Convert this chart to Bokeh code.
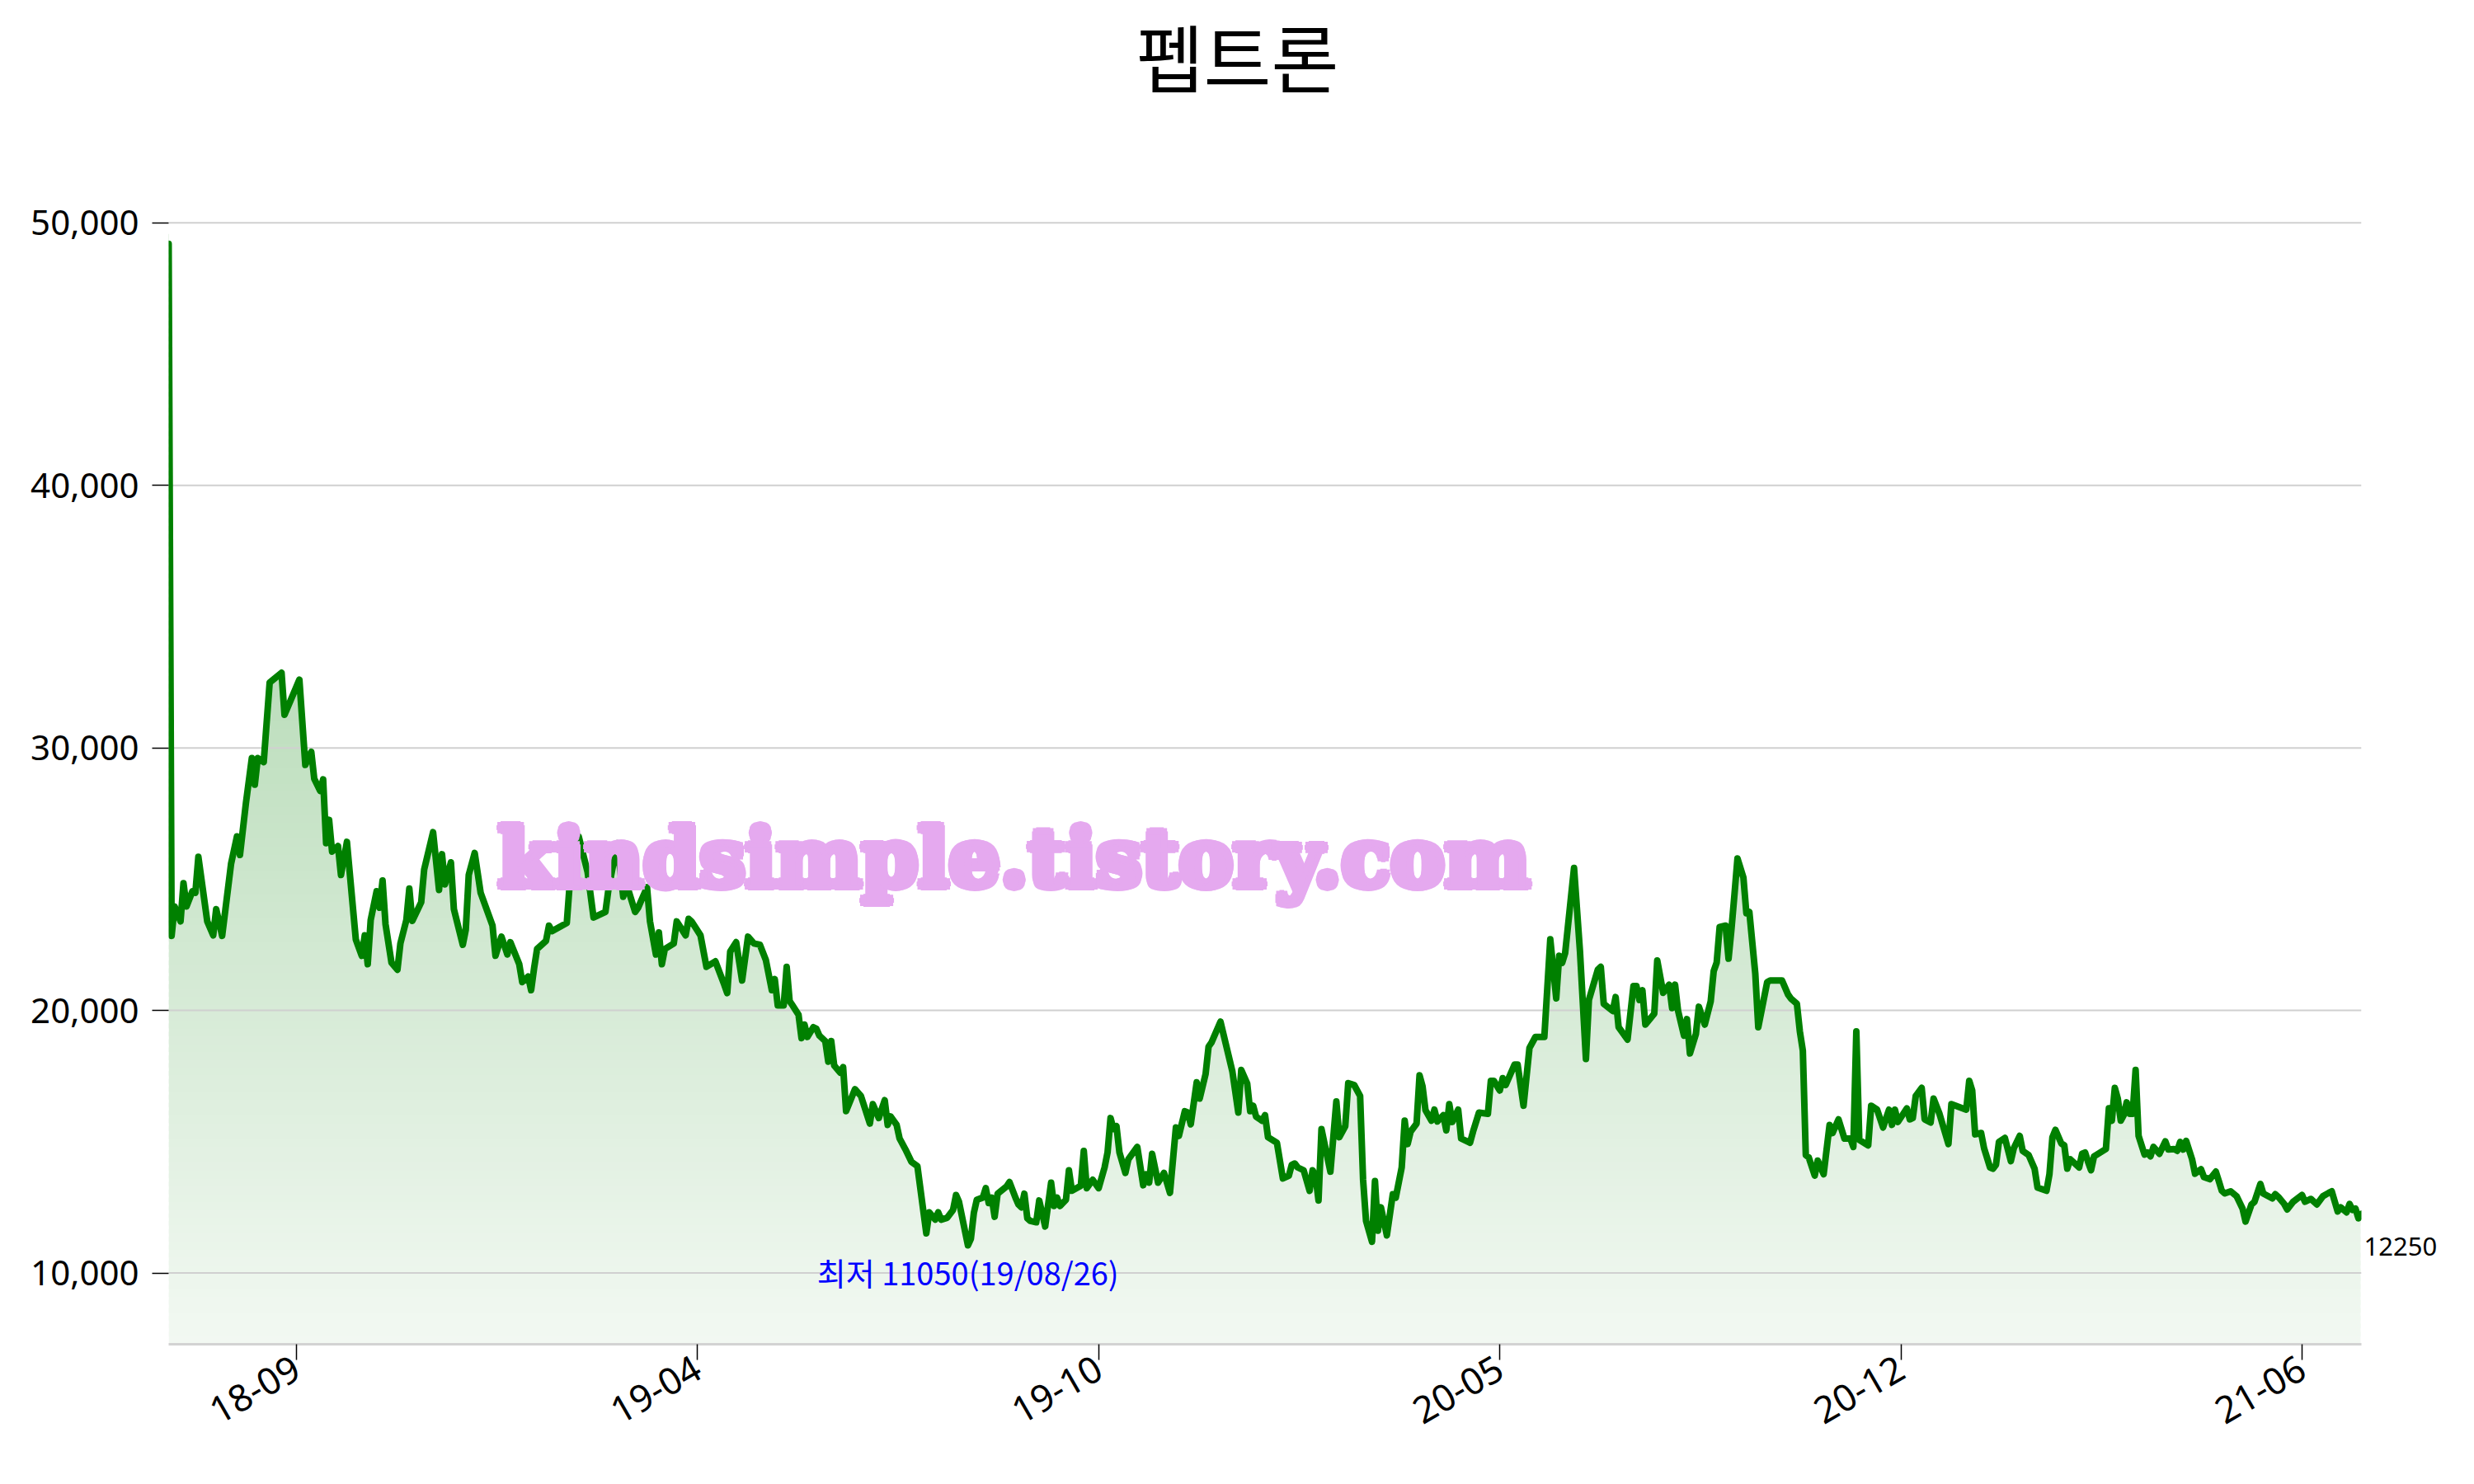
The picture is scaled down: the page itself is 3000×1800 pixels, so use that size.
import numpy as np
from bokeh.plotting import figure
from bokeh.models import Range1d, FixedTicker, NumeralTickFormatter, Label, LinearAxis
from bokeh.embed import file_html
from bokeh.resources import INLINE

# ---------------- data ----------------
title_text = "펩트론"
watermark_text = "kindsimple.tistory.com"
min_date = "19/08/26"

day_idx = [
    0, 1, 2, 4, 5, 6, 8, 9, 10, 13, 15, 16, 18, 21, 23, 24, 26, 28, 29, 30, 32, 34, 38, 39, 44, 46, 48, 49,
    51, 52, 53, 54, 55, 57, 58, 60, 63, 65, 66, 67, 68, 70, 71, 72, 73, 75, 77, 78, 80, 81, 82, 85, 86, 89,
    91, 92, 93, 95, 96, 99, 100, 101, 103, 105, 109, 110, 112, 114, 115, 118, 119, 121, 122,
    123, 124, 127, 128, 129, 134, 135, 138, 141, 143, 147, 148, 151, 153, 154, 157, 158, 161, 162, 164, 165,
    166, 167, 170, 171, 174, 175, 176, 179, 181, 184, 187, 188, 189, 191, 193, 195, 197, 199, 201, 203, 204,
    205, 207, 208, 209, 210, 212, 213, 214, 215, 217, 218, 219, 221, 222, 223, 224, 226, 227, 228, 231, 233,
    236, 237, 239, 241, 242, 243,
    245, 246, 248, 250, 252, 255, 256, 258, 259, 260, 262, 264, 265, 266, 269, 270, 271, 272, 274, 275, 276,
    277, 278, 279, 282, 283, 285, 286, 287, 288, 289, 290, 292, 293, 295, 297, 298, 299, 300, 302, 303, 304,
    307, 308, 309, 311, 313, 315, 316, 317, 318, 319, 320, 322, 323, 326, 328, 329, 330, 331, 333, 335, 337,
    339, 340, 342, 343, 344, 346, 347, 349, 350, 351, 354, 358, 360, 361, 363, 364, 365,
    366, 368, 369, 370, 373, 375, 377, 378, 379, 380, 382, 384, 385, 386, 387, 388, 391, 393, 394, 396, 397,
    399, 401, 402, 403, 405, 406, 407, 408, 410, 412, 413, 415, 416, 417, 418, 420, 421, 422, 423, 425, 426,
    427, 429, 430, 431, 432, 434, 435, 438, 439, 441, 444, 445, 446, 448, 449, 450, 453, 454, 456, 458, 460,
    463, 465, 467, 468, 469, 470, 473, 475, 477, 478, 481, 482, 483, 486, 487, 488,
    491, 493, 494, 495, 496, 497, 500, 501, 503, 505, 506, 507, 508, 510, 511, 512, 514, 515, 517, 519, 520,
    521, 522, 524, 525, 526, 527, 528, 530, 531, 532, 534, 535, 538, 539, 543, 545, 546, 548, 549, 550, 551,
    552, 554, 555, 557, 559, 560, 562, 564, 566, 567, 568, 569, 572, 573, 575, 577, 579, 580, 581, 582, 585,
    586, 587, 588, 590, 591, 593, 594, 596, 599, 600, 605, 606, 607, 608, 610,
    611, 613, 614, 615, 616, 618, 619, 620, 621, 623, 624, 626, 628, 629, 632, 633, 634, 635, 637, 638, 639,
    640, 643, 644, 645, 646, 647, 648, 652, 653, 654, 655, 656, 657, 658, 659, 660, 661, 662, 663, 665, 666,
    667, 668, 670, 672, 673, 675, 676, 677, 678, 679, 681, 682, 684, 685, 687, 689, 690, 691, 692, 694, 696,
    698, 699, 701, 702, 704, 705, 708, 709, 710, 712, 713, 715, 718, 719, 721, 723, 725, 727, 728, 730, 731,
    733, 734, 735, 736, 737, 738,
]

price = [
    49200, 22840, 23960, 23390, 24850, 23960, 24540, 24480, 25850, 23390, 22860, 23860, 22840, 25580, 26630,
    25920, 27890, 29610, 28600, 29610, 29460, 32490, 32860, 31260, 32600, 29350, 29850, 28830,
    28360, 28800, 26370, 27260, 26050, 26260, 25160, 26420, 22700, 22080, 22860, 21760, 23440, 24540, 23910,
    24950, 23280, 21820, 21550, 22550, 23440, 24640, 23410, 24120, 25370, 26790,
    24590, 25950, 24800, 25640, 23860, 22500, 23070, 25160, 26000, 24480, 23230, 22080, 22810, 22130, 22600,
    21760, 21080, 21290, 20770,
    21610, 22340, 22650, 23230, 23020, 23330, 24850, 26630, 25270, 23540, 23750, 24600, 26370, 24330, 24850,
    23750, 23910, 24690, 23390, 22130, 22970,
    21760, 22340, 22550, 23390, 22860, 23490, 23390, 22860, 21660, 21870, 20980, 20660, 22240, 22600, 21140,
    22810, 22550, 22500, 21920, 20770, 21190,
    20190, 20190, 21660, 20350, 20190, 19830, 18940, 19460, 18990, 19360, 19300, 19040, 18830, 18050, 18830,
    17900, 17630, 17840, 16160, 17000, 16740,
    15690, 16430, 15900, 16580, 15640, 15960,
    15640, 15120, 14700, 14230, 14070, 11510, 12310, 12030, 12310, 12030, 12100, 12400, 12970, 12710, 11050,
    11300, 12290, 12790, 12870, 13230, 12660,
    12870, 12140, 13020, 13290, 13460, 12870, 12610, 12500, 13020, 12080, 11980, 11930, 12760, 11770, 13440,
    12550, 12870, 12550, 12790, 13910, 13130,
    13320, 14650, 13230, 13550, 13230, 14020, 14590, 15900, 15480, 15590, 14590, 13810, 14330, 14800, 13340,
    13760, 13440, 14540, 13440, 13810, 13050,
    15540, 15220, 16160, 16110, 15660, 17260, 16640, 17580, 18620, 18780, 19570, 17680, 16110, 17730, 17210,
    16160, 16370,
    15950, 15800, 16010, 15170, 14960, 13600, 13700, 14120, 14170, 14020, 13910, 13130, 13910, 13700, 12760,
    15480, 13860, 16530, 15170, 15590, 17230,
    17160, 16740, 13550, 11980, 11190, 13500, 11610, 12500, 11430, 13000, 12870, 14020, 15800, 14910, 15380,
    15690, 17530, 17110, 16200, 15800, 16220,
    15770, 16010, 15430, 16430, 15750, 16220, 15120, 14960, 15380, 16110, 16060, 17320, 17320, 16950, 17420,
    17160, 17940, 17940, 16370, 18570, 18990,
    18990, 22710, 20460, 22080, 21810, 22180, 25430, 22240, 18150, 20400, 21550, 21660, 20250, 19980, 20510,
    19360,
    18890, 20930, 20930, 20400, 20770, 19460, 19880, 21900, 20670, 20980, 20090, 20980, 19990, 19040, 19670,
    18360, 19100, 20140, 19460, 20350, 21500,
    21820, 23180, 23230, 21970, 23120, 24430, 25790, 25060, 23700, 23750, 21400, 19360, 21080, 21140, 21140,
    20610, 20450, 20250, 19200, 18470, 14490,
    14400, 13710, 14280, 13760, 15640, 15330, 15850, 15120, 15120, 14800, 19200, 15070, 14860, 16370, 16220,
    15540, 16220, 15640, 16220, 15750, 16270,
    15850, 15900, 16740, 17050, 15850, 15730, 16640, 16060, 14910, 16430, 16220, 17320, 16950, 15280, 15330,
    14750, 14020, 13970, 14120, 14990, 15140, 14700, 14260, 14750, 15220, 14650, 14490, 13970, 13250, 13130,
    13760, 15170, 15450, 14930, 14860, 13970,
    14330, 14020, 14540, 14590, 14230, 13910, 14440, 14720, 16270, 15800, 17050, 16640, 15800, 16010, 16500,
    16060, 16060, 17730, 15220, 14510, 14590,
    14440, 14800, 14540, 15010, 14700, 14720, 14650, 14990, 14700, 15030, 14330, 13780, 13950, 13650, 13570,
    13860, 13500, 13130, 13030, 13110, 12920,
    12450, 11960, 12610, 12710, 13390, 13020, 12840, 13000, 12900, 12630, 12420, 12710, 12970, 12710, 12820,
    12610, 12920, 13050, 13110, 12340, 12500,
    12310, 12630, 12400, 12450, 12080, 12250,
]

xtick_pos = [43, 178, 313, 448, 583, 718]
xtick_labels = ["18-09", "19-04", "19-10", "20-05", "20-12", "21-06"]
ytick_vals = [10000, 20000, 30000, 40000, 50000]

# ---------------- layout (pixels) ----------------
W, H = 2984, 1784
FL, FR, FB = 204, 2863, 1630          # frame left / right / bottom; frame top = 0
PPV = (1543.5 - 269.8) / 40000.0      # pixels per price unit
Y0 = 10000 - (FB - 1543.5) / PPV
Y1 = Y0 + FB / PPV
X0, X1 = day_idx[0], day_idx[-1]
PPD = (FR - FL) / (X1 - X0)


def dx(sx):
    return X0 + (sx - FL) / PPD


def dy(sy):
    return Y0 + (FB - sy) / PPV


p = figure(width=W, height=H, output_backend="svg", toolbar_location=None, title=None,
           x_range=Range1d(X0, X1), y_range=Range1d(Y0, Y1),
           min_border_left=FL, min_border_right=W - FR, min_border_top=0, min_border_bottom=H - FB)
p.outline_line_color = None
p.background_fill_color = "white"
p.border_fill_color = "white"
p.xgrid.visible = False
p.ygrid.visible = False

# gradient fill (bands), then white mask above the line
top_val = max(price)
edges = np.linspace(Y0, top_val + 200, 141)
step = edges[1] - edges[0]
mids = (edges[:-1] + edges[1:]) / 2
alpha = 0.05 + 0.35 * np.clip((mids - Y0) / (top_val - Y0), 0, 1)
cols = ["#%02x%02x%02x" % (int(round(255 * (1 - a))), int(round(255 - 127 * a)), int(round(255 * (1 - a))))
        for a in alpha]
p.quad(left=X0, right=X1 - 0.3, bottom=edges[:-1], top=edges[1:] + 0.6 * step,
       fill_color=cols, line_color=None)
p.varea(x=day_idx, y1=price, y2=Y1, fill_color="white")

# grid lines above fill, below line
p.segment(x0=X0, x1=X1, y0=ytick_vals, y1=ytick_vals, line_color="#d0d0d0", line_width=2)

p.line(day_idx, price, line_color="green", line_width=8, line_join="round", line_cap="round")

# axes
xa = p.xaxis[0]
xa.ticker = FixedTicker(ticks=xtick_pos)
xa.major_label_overrides = {float(t): l for t, l in zip(xtick_pos, xtick_labels)}
xa.major_label_orientation = np.pi / 6
xa.major_label_text_font = "Noto Sans"
xa.major_label_text_font_size = "45px"
xa.major_label_text_color = "black"
xa.major_label_standoff = 6
xa.axis_line_color = "#d3d3d3"
xa.axis_line_width = 3
xa.major_tick_out = 19
xa.major_tick_in = 0
xa.major_tick_line_color = "black"
xa.major_tick_line_width = 1.5
xa.minor_tick_line_color = None

ya = p.yaxis[0]
ya.ticker = FixedTicker(ticks=ytick_vals)
ya.formatter = NumeralTickFormatter(format="0,0")
ya.major_label_text_font = "Noto Sans"
ya.major_label_text_font_size = "42px"
ya.major_label_text_color = "black"
ya.major_label_standoff = 16
ya.axis_line_color = None
ya.major_tick_out = 20
ya.major_tick_in = 0
ya.major_tick_line_color = "black"
ya.major_tick_line_width = 1.5
ya.minor_tick_line_color = None

# last value label, shown on a bare right axis just below the last point
last_lab_y = price[-1] - 40 / PPV
ra = LinearAxis(ticker=FixedTicker(ticks=[last_lab_y]),
                major_label_overrides={float(last_lab_y): str(price[-1])},
                axis_line_color=None, major_tick_line_color=None, minor_tick_line_color=None,
                major_tick_out=0, major_tick_in=0, major_label_standoff=3,
                major_label_text_font="Noto Sans", major_label_text_font_size="31px",
                major_label_text_color="black")
p.add_layout(ra, "right")

# title (frame reaches the top of the canvas)
p.add_layout(Label(x=dx(1500), y=dy(66), text=title_text, text_font="Noto Sans CJK KR",
                   text_font_size="89px", text_align="center", text_baseline="middle",
                   text_color="black"))

# watermark (drawn several times with small offsets to get a heavy face)
wm_x, wm_y = dx(1229), dy(1040)
for ox, oy in [(0, 0), (5, 0), (-5, 0), (0, 5), (0, -5), (4, 4), (-4, 4), (4, -4), (-4, -4)]:
    p.add_layout(Label(x=wm_x, y=wm_y, x_offset=ox, y_offset=oy, text=watermark_text,
                       text_font="DejaVu Serif", text_font_style="bold",
                       text_font_size="98px", text_color="#e5a9ef",
                       text_align="center", text_baseline="alphabetic"))

imin = int(np.argmin(price))
p.add_layout(Label(x=day_idx[imin], y=price[imin], text=f"최저 {price[imin]}({min_date})",
                   text_font="Noto Sans CJK KR", text_font_size="38px", text_color="blue",
                   text_align="center", text_baseline="alphabetic", y_offset=-32))

open("out.html", "w").write(file_html(p, INLINE))
